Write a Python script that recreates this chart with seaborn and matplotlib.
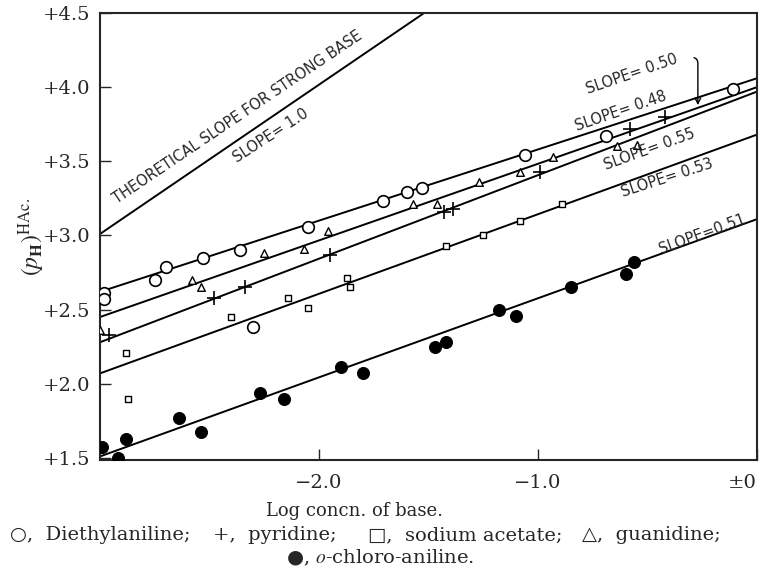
import numpy as np
import pandas as pd
import matplotlib
matplotlib.use("Agg")
import matplotlib.pyplot as plt
import seaborn as sns

diethyl_x = [-2.98, -2.98, -2.75, -2.70, -2.53, -2.36, -2.30, -2.05, -1.71, -1.60, -1.53, -1.06, -0.69, -0.11]
diethyl_y = [2.615, 2.57, 2.70, 2.79, 2.85, 2.905, 2.385, 3.06, 3.23, 3.29, 3.32, 3.54, 3.67, 3.99]

pyridine_x = [-2.96, -2.48, -2.34, -1.95, -1.43, -1.39, -0.99, -0.58, -0.42]
pyridine_y = [2.33, 2.58, 2.655, 2.87, 3.16, 3.18, 3.43, 3.72, 3.80]

acetate_x = [-2.88, -2.87, -2.40, -2.14, -2.05, -1.87, -1.86, -1.42, -1.25, -1.08, -0.89]
acetate_y = [2.21, 1.90, 2.45, 2.58, 2.51, 2.71, 2.655, 2.93, 3.00, 3.10, 3.21]

guanidine_x = [-3.0, -2.58, -2.54, -2.25, -2.07, -1.96, -1.57, -1.46, -1.27, -1.08, -0.93, -0.64, -0.55]
guanidine_y = [2.365, 2.70, 2.655, 2.885, 2.91, 3.03, 3.21, 3.21, 3.36, 3.43, 3.53, 3.60, 3.61]

chloro_x = [-2.99, -2.92, -2.88, -2.64, -2.54, -2.27, -2.16, -1.90, -1.80, -1.47, -1.42, -1.18, -1.10, -0.85, -0.60, -0.56]
chloro_y = [1.575, 1.50, 1.63, 1.77, 1.675, 1.94, 1.90, 2.115, 2.07, 2.245, 2.28, 2.50, 2.46, 2.655, 2.74, 2.82]

# drawn lines, end points
fit_x = [-3.0, 0.0]
diethyl_fit = [2.62, 4.06]
guanidine_fit = [2.45, 4.00]
pyridine_fit = [2.28, 3.97]
acetate_fit = [2.07, 3.68]
chloro_fit = [1.51, 3.11]
theory_x = [-3.0, -1.52]
theory_y = [3.01, 4.5]

y_ticks = [1.5, 2.0, 2.5, 3.0, 3.5, 4.0, 4.5]
y_tick_labels = ["+1.5", "+2.0", "+2.5", "+3.0", "+3.5", "+4.0", "+4.5"]
x_ticks = [-2.0, -1.0, 0.0]
x_tick_labels = ["\u22122.0", "\u22121.0", "\u00b10"]

sns.set_style("ticks")
serif = ["DejaVu Serif", "DejaVu Sans"]
plt.rcParams["font.family"] = serif
plt.rcParams["mathtext.fontset"] = "stix"

fig = plt.figure(figsize=(7.65, 5.73), dpi=100)
ax = fig.add_axes([100 / 765, 1 - 460 / 573, 657 / 765, 447 / 573])

for ys in [diethyl_fit, guanidine_fit, pyridine_fit, acetate_fit, chloro_fit]:
    sns.lineplot(x=fit_x, y=ys, ax=ax, color="black", lw=1.4, zorder=2)
sns.lineplot(x=theory_x, y=theory_y, ax=ax, color="black", lw=1.4, zorder=2)

sns.scatterplot(x=diethyl_x, y=diethyl_y, ax=ax, marker="o", s=70,
                facecolor="white", edgecolor="black", linewidth=1.2, zorder=3)
sns.scatterplot(x=guanidine_x, y=guanidine_y, ax=ax, marker="^", s=30,
                facecolor="white", edgecolor="black", linewidth=1.0, zorder=3)
sns.scatterplot(x=acetate_x, y=acetate_y, ax=ax, marker="s", s=22,
                facecolor="white", edgecolor="black", linewidth=1.0, zorder=3)
sns.scatterplot(x=pyridine_x, y=pyridine_y, ax=ax, marker="+", s=110,
                color="black", linewidth=1.2, zorder=3)
sns.scatterplot(x=chloro_x, y=chloro_y, ax=ax, marker="o", s=75,
                color="black", edgecolor="black", zorder=3)

ax.set_xlim(-3.0, 0.0)
ax.set_ylim(1.486, 4.5)
ax.set_yticks(y_ticks)
ax.set_yticklabels(y_tick_labels)
ax.set_xticks(x_ticks)
ax.set_xticklabels(x_tick_labels)
ax.tick_params(direction="in", length=8, width=1.0, labelsize=14, pad=7)
ax.tick_params(axis="x", pad=10)
ax.get_xticklabels()[-1].set_horizontalalignment("right")
for sp in ax.spines.values():
    sp.set_linewidth(1.5)

ax.set_xlabel("Log concn. of base.", fontsize=13)
ax.xaxis.set_label_coords(0.387, -0.095)
ax.set_ylabel(r"$(p_{\mathbf{H}})^{\mathrm{HAc.}}$", fontsize=17)
ax.yaxis.set_label_coords(-0.08, 0.5)

lab = dict(family="DejaVu Sans", fontsize=10.5, ha="center", va="center")
ax.text(-2.37, 3.80, "THEORETICAL SLOPE FOR STRONG BASE", rotation=34, **lab)
ax.text(-2.22, 3.67, "SLOPE= 1.0", rotation=33, **lab)
ax.text(-0.57, 4.09, "SLOPE= 0.50", rotation=19, **lab)
ax.text(-0.62, 3.84, "SLOPE= 0.48", rotation=19, **lab)
ax.text(-0.49, 3.58, "SLOPE= 0.55", rotation=20, **lab)
ax.text(-0.41, 3.39, "SLOPE= 0.53", rotation=18, **lab)
ax.text(-0.25, 3.01, "SLOPE=0.51", rotation=20, **lab)
ax.annotate("", xy=(-0.27, 3.86), xytext=(-0.30, 4.20),
            arrowprops=dict(arrowstyle="->", color="black", lw=1.0,
                            connectionstyle="angle,angleA=0,angleB=90,rad=6"))

cap_y = 1 - 535 / 573
caption = ["\u25cb,  Diethylaniline;", "+,  pyridine;",
           "\u25a1,  sodium acetate;", "\u25b3,  guanidine;"]
cap_left = [10, 213, 368, 582]
for txt, px in zip(caption, cap_left):
    fig.text(px / 765, cap_y, txt, ha="left", va="center", fontsize=14, family=serif)
fig.text(380 / 765, 1 - 558 / 573, "\u25cf, $\\it{o}$-chloro-aniline.",
         ha="center", va="center", fontsize=14, family=serif)

fig.savefig("out.png", dpi=100)
